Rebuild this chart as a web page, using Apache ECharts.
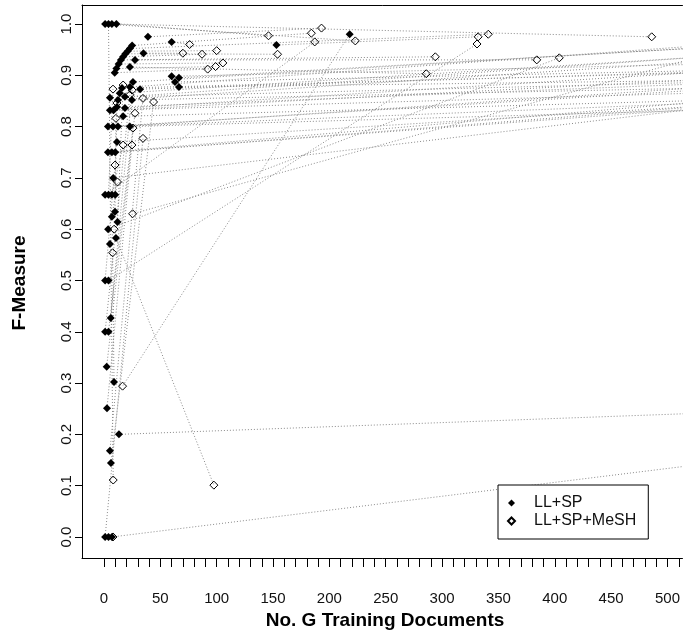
<!DOCTYPE html>
<html>
<head>
<meta charset="utf-8">
<script src="https://cdn.jsdelivr.net/npm/echarts@6/dist/echarts.min.js"></script>
<style>
  html, body { margin: 0; padding: 0; background: #fff; }
  #chart { width: 683px; height: 638px; }
</style>
</head>
<body>
<div id="chart"></div>
<script>
// Paired results: entry i of the LL+SP arrays is joined by a dotted line
// to entry i of the LL+SP+MeSH arrays.
const llspX = [11, 19, 25, 39, 1, 1, 15, 23, 153, 23, 4, 27.5, 3.7, 7, 60, 35, 17, 21, 9.5, 11, 13,
  6.2, 1, 2.4, 5.3, 4, 9.8, 2.7, 6, 1, 1, 7, 600, 5.3, 8.9, 218, 4, 10.6, 4, 4, 10, 12, 7,
  60, 66.5, 63, 66.5, 25.7, 23, 32, 16, 14, 18.6, 5.3, 12.4, 24.8, 11.5, 18.6, 5.3, 8.5, 17,
  3.5, 8, 12.4, 23, 11.5, 3.5, 7, 10, 8.2, 13.3, 7];
const llspY = [1.0, 0.942, 0.958, 0.975, 0.667, 1.0, 0.93, 0.916, 0.959, 0.952, 0.5, 0.93, 0.6, 1.0, 0.965, 0.943, 0.936, 0.947, 0.905, 0.913, 0.922,
  0.144, 0.0, 0.332, 0.168, 0.667, 0.634, 0.251, 0.427, 0.4, 0.5, 0.624, 0.98, 0.571, 0.302, 0.98, 1.0, 0.583, 0.0, 0.4, 0.667, 0.614, 0.667,
  0.898, 0.895, 0.887, 0.877, 0.887, 0.877, 0.873, 0.875, 0.865, 0.858, 0.856, 0.852, 0.852, 0.838, 0.836, 0.832, 0.832, 0.82,
  0.8, 0.8, 0.8, 0.8, 0.77, 0.75, 0.75, 0.75, 0.70, 0.2, 0.0];
const meshX = [146, 154, 184, 193, 187, 223, 294, 286, 332, 341, 331, 384, 404, 486, 76, 70, 87, 100, 92, 99, 105.5,
  44, 34.6, 27.5, 34.6, 8, 10.6, 24.8, 25, 23, 9.8, 12, 25.4, 9, 7.7, 16.5, 8.2, 97.5, 8, 25.7, 11.5, 17, 17,
  700, 820, 760, 900, 650, 700, 880, 620, 1000, 780, 560, 900, 640, 720, 850, 600, 950, 680,
  740, 580, 1100, 660, 900, 700, 620, 1000, 700, 1000, 1000];
const meshY = [0.977, 0.941, 0.982, 0.992, 0.965, 0.967, 0.936, 0.903, 0.975, 0.98, 0.961, 0.93, 0.934, 0.975, 0.96, 0.943, 0.941, 0.948, 0.912, 0.917, 0.924,
  0.848, 0.777, 0.826, 0.855, 0.873, 0.816, 0.764, 0.871, 0.862, 0.725, 0.692, 0.63, 0.6, 0.554, 0.294, 0.111, 0.101, 0.0, 0.797, 0.846, 0.881, 0.764,
  0.93, 0.99, 0.92, 0.90, 0.97, 0.985, 0.93, 0.91, 1.0, 0.90, 0.94, 0.98, 0.88, 0.90, 0.95, 0.87, 0.94, 0.86,
  0.90, 0.85, 0.96, 0.84, 0.89, 0.88, 0.85, 0.92, 0.88, 0.279, 0.269];

// Axis ticks and labels
const xTickValues = [];
for (let v = 0; v <= 510; v += 10) xTickValues.push(v);
const xLabelValues = [0, 50, 100, 150, 200, 250, 300, 350, 400, 450, 500];
const yTickValues = [0, 0.1, 0.2, 0.3, 0.4, 0.5, 0.6, 0.7, 0.8, 0.9, 1.0];

const seriesNames = ['LL+SP', 'LL+SP+MeSH'];
const xTitle = 'No. G Training Documents';
const yTitle = 'F-Measure';

const FONT = "'Liberation Sans', Arial, Helvetica, sans-serif";
const X_MIN = -19.5, X_MAX = 513.3;

const chart = echarts.init(document.getElementById('chart'), null, { renderer: 'canvas' });

const series = [];
// dotted connectors, one per pair
for (let i = 0; i < llspX.length; i++) {
  series.push({
    type: 'line',
    silent: true,
    symbol: 'none',
    clip: true,
    z: 1,
    lineStyle: { color: '#8a8a8a', width: 1, type: [1, 2] },
    data: [[llspX[i], llspY[i]], [meshX[i], meshY[i]]]
  });
}
series.push({
  name: seriesNames[0],
  type: 'scatter',
  symbol: 'diamond',
  symbolSize: 8,
  clip: true,
  z: 3,
  itemStyle: { color: '#000', borderColor: '#000', borderWidth: 0, opacity: 1 },
  data: llspX.map((x, i) => [x, llspY[i]])
});
series.push({
  name: seriesNames[1],
  type: 'scatter',
  symbol: 'diamond',
  symbolSize: 8,
  clip: true,
  z: 4,
  itemStyle: { color: 'rgba(255,255,255,0)', borderColor: '#000', borderWidth: 1, opacity: 1 },
  data: meshX.map((x, i) => [x, meshY[i]])
});

chart.setOption({
  animation: false,
  backgroundColor: '#fff',
  grid: { left: 82, top: 5, right: 0, height: 553 },
  xAxis: [
    {
      type: 'value',
      min: X_MIN, max: X_MAX,
      position: 'bottom',
      splitLine: { show: false },
      axisLine: { show: true, onZero: false, lineStyle: { color: '#000', width: 1 } },
      axisTick: { show: true, customValues: xTickValues, length: 9, lineStyle: { color: '#000' } },
      axisLabel: {
        customValues: xLabelValues, margin: 33, fontSize: 15, color: '#111', fontFamily: FONT
      }
    },
    {
      // top edge of the plot frame
      type: 'value',
      min: X_MIN, max: X_MAX,
      position: 'top',
      splitLine: { show: false },
      axisLine: { show: true, onZero: false, lineStyle: { color: '#000', width: 1 } },
      axisTick: { show: false },
      axisLabel: { show: false }
    }
  ],
  yAxis: {
    type: 'value',
    min: -0.041, max: 1.037,
    splitLine: { show: false },
    axisLine: { show: true, onZero: false, lineStyle: { color: '#000', width: 1 } },
    axisTick: { show: true, customValues: yTickValues, length: 7, lineStyle: { color: '#000' } },
    axisLabel: {
      customValues: yTickValues, rotate: 90, margin: 8, fontSize: 15, color: '#111', fontFamily: FONT,
      formatter: v => v.toFixed(1)
    }
  },
  legend: {
    data: seriesNames,
    orient: 'vertical',
    left: 498, top: 485,
    backgroundColor: '#fff',
    borderColor: '#000', borderWidth: 1, borderRadius: 0,
    padding: [10, 12, 10, 9],
    itemGap: 2,
    itemWidth: 7, itemHeight: 7,
    selectedMode: false,
    textStyle: { fontSize: 16, color: '#111', fontFamily: FONT, lineHeight: 16, padding: [0, 0, 0, 14] }
  },
  graphic: [
    {
      type: 'text', z: 10,
      x: 385, y: 611,
      style: { text: xTitle, font: 'bold 19px ' + FONT, fill: '#000', align: 'center', verticalAlign: 'top' }
    },
    {
      type: 'text', z: 10,
      x: 10, y: 283, rotation: Math.PI / 2,
      style: { text: yTitle, font: 'bold 19px ' + FONT, fill: '#000', align: 'center', verticalAlign: 'top' }
    }
  ],
  series: series
});
</script>
</body>
</html>
